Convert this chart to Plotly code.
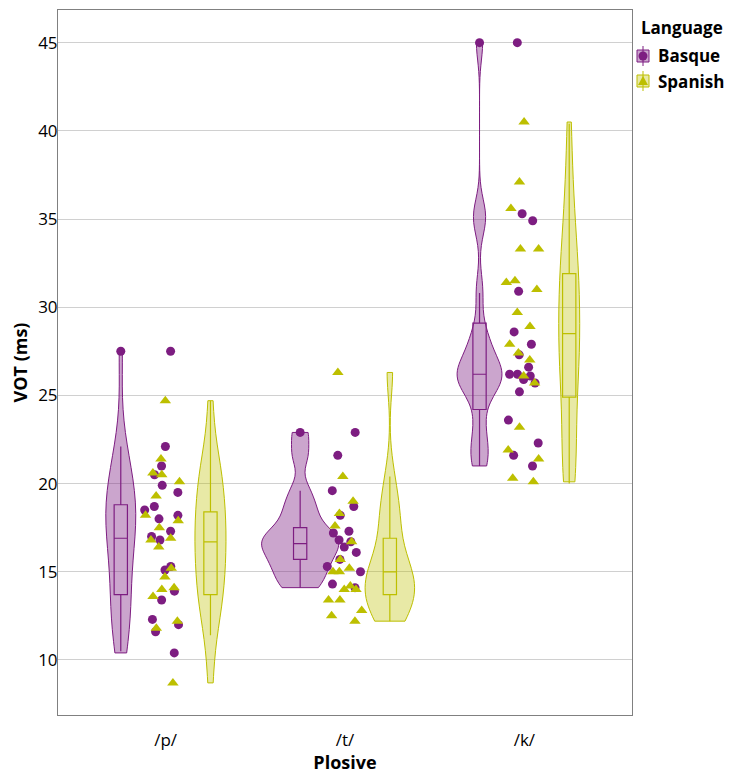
import numpy as np
import plotly.graph_objects as go

# ---------------- data ----------------
plosives = ["/p/", "/t/", "/k/"]
languages = ["Basque", "Spanish"]

basque_p = [27.5, 22.1, 21.0, 20.5, 19.9, 19.5, 18.7, 18.5, 18.2, 18.0, 17.3, 17.0,
            16.8, 15.3, 15.1, 13.9, 13.4, 12.3, 12.0, 11.6, 10.4]
spanish_p = [24.7, 21.4, 20.6, 20.5, 20.1, 19.3, 18.2, 17.9, 17.5, 16.8, 16.9, 16.4,
             15.2, 14.7, 14.1, 13.6, 14.0, 12.2, 11.8, 8.7]
basque_t = [22.9, 21.6, 19.6, 18.7, 18.2, 17.3, 17.2, 16.8, 16.7, 16.4, 16.1, 15.7,
            15.3, 15.0, 14.3, 14.1]
spanish_t = [26.3, 20.4, 19.0, 18.3, 17.6, 16.7, 15.7, 15.0, 15.2, 15.0, 14.2, 14.0,
             14.0, 13.4, 13.4, 12.8, 12.5, 12.2]
basque_k = [45.0, 35.3, 34.9, 30.9, 28.6, 27.9, 27.3, 26.6, 26.2, 25.9, 26.2, 25.7,
            26.1, 25.2, 23.6, 22.3, 21.6, 21.0]
spanish_k = [40.5, 37.1, 35.6, 33.3, 33.3, 31.4, 31.5, 31.0, 29.7, 28.9, 27.9, 27.4,
             27.0, 26.1, 25.7, 23.2, 21.9, 21.4, 20.3, 20.1]

values = {
    "Basque": [basque_p, basque_t, basque_k],
    "Spanish": [spanish_p, spanish_t, spanish_k],
}

# box summary
box_q1 = {"Basque": [13.7, 15.7, 24.2], "Spanish": [13.7, 13.7, 24.9]}
box_median = {"Basque": [16.9, 16.6, 26.2], "Spanish": [16.7, 15.0, 28.5]}
box_q3 = {"Basque": [18.8, 17.5, 29.1], "Spanish": [18.4, 16.9, 31.9]}
box_low = {"Basque": [10.5, 14.1, 21.0], "Spanish": [11.4, 12.2, 20.0]}
box_high = {"Basque": [22.1, 19.6, 30.8], "Spanish": [24.7, 20.4, 40.4]}
outliers = {"Basque": [27.5, 22.9, 45.0], "Spanish": [None, None, None]}

y_ticks = [10, 15, 20, 25, 30, 35, 40, 45]

# ---------------- style ----------------
line_col = {"Basque": "#7D1D81", "Spanish": "#BDBF00"}
fill_col = {"Basque": "rgba(125,29,129,0.40)", "Spanish": "rgba(189,191,0,0.35)"}
symbols = {"Basque": "circle", "Spanish": "triangle-up"}
msize = {"Basque": 9, "Spanish": 10}
dodge = {"Basque": -0.25, "Spanish": 0.25}
violin_w = {"Basque": [0.167, 0.43, 0.25], "Spanish": [0.173, 0.275, 0.117]}
bw_adjust = {"Basque": [1.0, 0.65, 0.85], "Spanish": [1.0, 0.9, 1.0]}
BOX_W = 0.074
PTS_W = 0.24
FONT = "Open Sans"

# page body has an 8px default margin; compensate so the plot lands where intended
OFF = 8
FIG_W, FIG_H = 732 - OFF, 774 - OFF
L, R, T, B = 58, 632, 10, 715          # plot area in window pixels
W, H = R - L, B - T


def bw_nrd0(x):
    x = np.asarray(x, dtype=float)
    sd = np.std(x, ddof=1)
    iqr = np.subtract(*np.percentile(x, [75, 25]))
    lo = min(sd, iqr / 1.34)
    if lo <= 0:
        lo = sd
    return 0.9 * lo * len(x) ** (-0.2)


fig = go.Figure()

for lang in languages:
    for i, cat in enumerate(plosives):
        pos = i + 1 + dodge[lang]
        data = values[lang][i]
        fig.add_trace(go.Violin(
            y=data, x0=pos, width=violin_w[lang][i], scalemode="width",
            spanmode="hard", bandwidth=bw_nrd0(data) * bw_adjust[lang][i],
            points=False, box_visible=False, meanline_visible=False,
            line=dict(color=line_col[lang], width=1),
            fillcolor=fill_col[lang], showlegend=False, hoverinfo="skip",
        ))

for lang in languages:
    xs = [i + 1 + dodge[lang] for i in range(len(plosives))]
    fig.add_trace(go.Box(
        x=xs, q1=box_q1[lang], median=box_median[lang], q3=box_q3[lang],
        lowerfence=box_low[lang], upperfence=box_high[lang],
        width=BOX_W, whiskerwidth=0, fillcolor="rgba(0,0,0,0)",
        line=dict(color=line_col[lang], width=1.2),
        boxpoints=False, showlegend=False, hoverinfo="skip",
    ))

for lang in languages:
    for i, cat in enumerate(plosives):
        fig.add_trace(go.Box(
            y=values[lang][i], x0=i + 1, width=PTS_W,
            boxpoints="all", jitter=1, pointpos=0,
            fillcolor="rgba(0,0,0,0)", line=dict(color="rgba(0,0,0,0)", width=1),
            marker=dict(color=line_col[lang], size=msize[lang],
                        symbol=symbols[lang], line=dict(width=0)),
            showlegend=False, hoverinfo="y",
        ))

for lang in languages:
    ox, oy = [], []
    for i in range(len(plosives)):
        if outliers[lang][i] is not None:
            ox.append(i + 1 + dodge[lang])
            oy.append(outliers[lang][i])
    if ox:
        fig.add_trace(go.Scatter(
            x=ox, y=oy, mode="markers",
            marker=dict(color=line_col[lang], size=msize[lang], symbol=symbols[lang]),
            showlegend=False, hoverinfo="y",
        ))

# ---------------- manual ggplot-style legend ----------------


def px(xp):
    return (xp - L) / W


def py(yp):
    return (B - yp) / H


shapes = []
annotations = [dict(text="<b>Language</b>", x=px(639), y=py(27), xref="paper", yref="paper",
                    xanchor="left", yanchor="middle", showarrow=False,
                    font=dict(family=FONT, size=17, color="black"))]
for k, lang in enumerate(languages):
    cy = 56 + 25 * k
    cx = 643
    shapes.append(dict(type="line", xref="paper", yref="paper",
                       x0=px(cx), x1=px(cx), y0=py(cy - 10), y1=py(cy + 10),
                       line=dict(color=line_col[lang], width=1)))
    shapes.append(dict(type="rect", xref="paper", yref="paper",
                       x0=px(cx - 6), x1=px(cx + 6), y0=py(cy - 6), y1=py(cy + 6),
                       fillcolor=fill_col[lang], line=dict(color=line_col[lang], width=1)))
    if symbols[lang] == "circle":
        shapes.append(dict(type="circle", xref="paper", yref="paper",
                           x0=px(cx - 4.5), x1=px(cx + 4.5), y0=py(cy - 4.5), y1=py(cy + 4.5),
                           fillcolor=line_col[lang], line=dict(width=0)))
    else:
        shapes.append(dict(type="path", xref="paper", yref="paper",
                           path="M {} {} L {} {} L {} {} Z".format(
                               px(cx - 5), py(cy + 4), px(cx + 5), py(cy + 4), px(cx), py(cy - 5)),
                           fillcolor=line_col[lang], line=dict(width=0)))
    annotations.append(dict(text="<b>%s</b>" % lang, x=px(656), y=py(cy), xref="paper",
                            yref="paper", xanchor="left", yanchor="middle", showarrow=False,
                            font=dict(family=FONT, size=17, color="black")))

fig.update_layout(
    template="none",
    width=FIG_W, height=FIG_H,
    margin=dict(l=L - OFF, r=FIG_W + OFF - R, t=T - OFF, b=FIG_H + OFF - B, pad=0),
    paper_bgcolor="white", plot_bgcolor="white",
    violinmode="overlay", boxmode="overlay",
    font=dict(family=FONT, size=16, color="black"),
    shapes=shapes, annotations=annotations,
    showlegend=False,
    xaxis=dict(range=[0.4, 3.6], tickvals=[1, 2, 3], ticktext=plosives, automargin=False,
               showgrid=False, zeroline=False, showline=True, mirror=True,
               linecolor="#808080", linewidth=1, ticks="", ticklabelstandoff=10,
               tickfont=dict(family=FONT, size=17, color="black"),
               title=dict(text="<b>Plosive</b>", font=dict(family=FONT, size=18), standoff=7)),
    yaxis=dict(range=[6.88, 46.85], tickvals=y_ticks, automargin=False,
               showgrid=True, gridcolor="#D0D0D0", gridwidth=1, zeroline=False,
               showline=True, mirror=True, linecolor="#808080", linewidth=1, ticks="",
               ticklabelstandoff=-4,
               tickfont=dict(family=FONT, size=17, color="black"),
               title=dict(text="<b>VOT (ms)</b>", font=dict(family=FONT, size=18), standoff=8)),
)

fig.write_html("out.html")
